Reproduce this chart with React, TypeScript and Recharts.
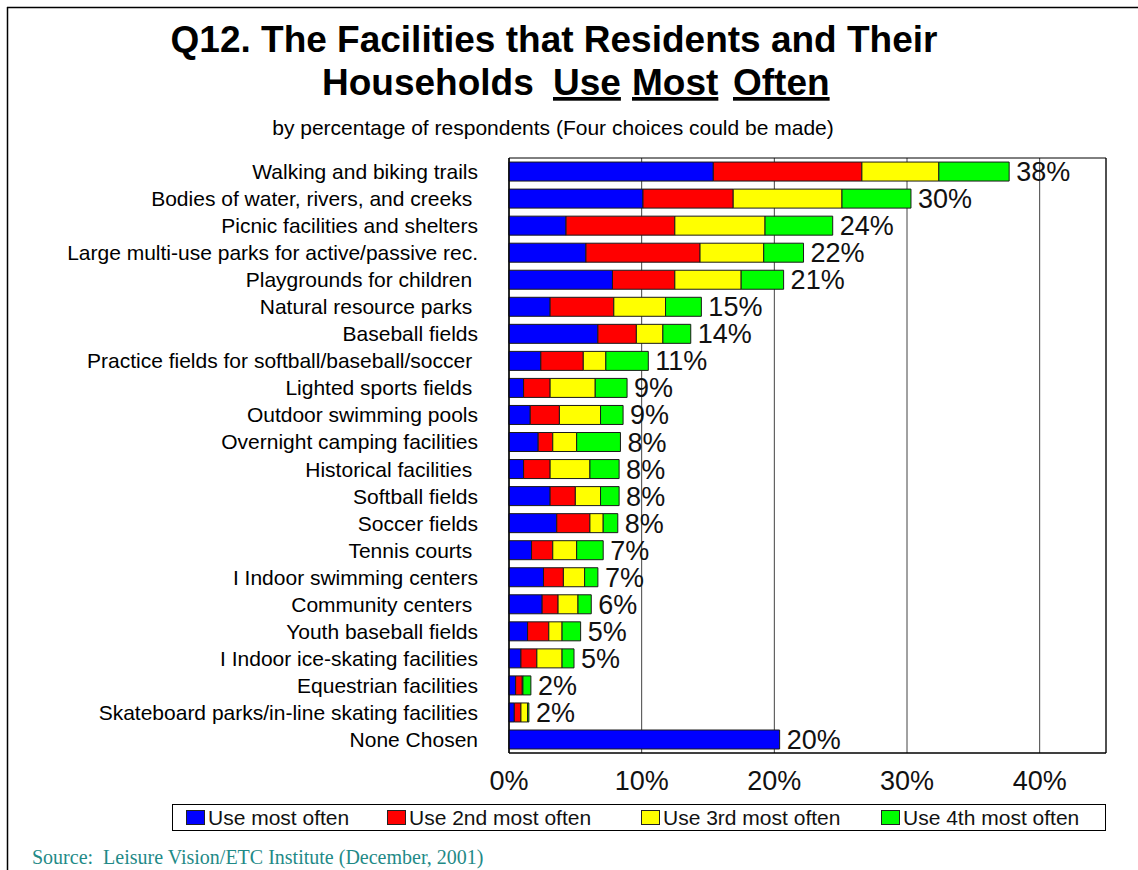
import { BarChart, Bar, XAxis, YAxis, CartesianGrid, ReferenceArea, LabelList } from "recharts";

const categories = [
  "Walking and biking trails",
  "Bodies of water, rivers, and creeks ",
  "Picnic facilities and shelters",
  "Large multi-use parks for active/passive rec.",
  "Playgrounds for children ",
  "Natural resource parks ",
  "Baseball fields",
  "Practice fields for softball/baseball/soccer ",
  "Lighted sports fields ",
  "Outdoor swimming pools",
  "Overnight camping facilities",
  "Historical facilities ",
  "Softball fields",
  "Soccer fields",
  "Tennis courts ",
  "I Indoor swimming centers",
  "Community centers ",
  "Youth baseball fields",
  "I Indoor ice-skating facilities",
  "Equestrian facilities",
  "Skateboard parks/in-line skating facilities",
  "None Chosen",
];

const useMost = [15.4, 10.1, 4.3, 5.8, 7.8, 3.1, 6.7, 2.4, 1.1, 1.6, 2.2, 1.1, 3.1, 3.6, 1.7, 2.6, 2.5, 1.4, 0.9, 0.5, 0.4, 20.4];
const use2nd = [11.2, 6.8, 8.2, 8.6, 4.7, 4.8, 2.9, 3.2, 2.0, 2.2, 1.1, 2.0, 1.9, 2.5, 1.6, 1.5, 1.2, 1.6, 1.2, 0.5, 0.5, 0];
const use3rd = [5.8, 8.2, 6.8, 4.8, 5.0, 3.9, 2.0, 1.7, 3.4, 3.1, 1.8, 3.0, 1.9, 1.0, 1.8, 1.6, 1.5, 1.0, 1.9, 0.05, 0.5, 0];
const use4th = [5.3, 5.2, 5.1, 3.0, 3.2, 2.7, 2.1, 3.2, 2.4, 1.7, 3.3, 2.2, 1.4, 1.1, 2.0, 1.0, 1.0, 1.4, 0.9, 0.6, 0.1, 0];
const totalLabels = ["38%", "30%", "24%", "22%", "21%", "15%", "14%", "11%", "9%", "9%", "8%", "8%", "8%", "8%", "7%", "7%", "6%", "5%", "5%", "2%", "2%", "20%"];
const xTicks = [0, 10, 20, 30, 40];

const series = [
  { key: "most", label: "Use most often", color: "#0000FF", values: useMost },
  { key: "second", label: "Use 2nd most often", color: "#FF0000", values: use2nd },
  { key: "third", label: "Use 3rd most often", color: "#FFFF00", values: use3rd },
  { key: "fourth", label: "Use 4th most often", color: "#00FF00", values: use4th },
];

const data = categories.map((name, i) => ({
  name,
  most: useMost[i],
  second: use2nd[i],
  third: use3rd[i],
  fourth: use4th[i],
}));

// which series ends each row, so the total label sits after it
const lastSeries = categories.map((_, i) => {
  let last = 0;
  series.forEach((s, si) => {
    if (s.values[i] > 0) last = si;
  });
  return last;
});

const FONT = "'Liberation Sans', Arial, sans-serif";
// legend item left edges, page px
const legendLeft = [185, 386, 640, 880];

const CategoryTick = (props: any) => {
  const { x, y, payload } = props;
  return (
    <text x={x - 31} y={y + 7.5} textAnchor="end" fontSize={21} fill="#000" fontFamily={FONT} style={{ whiteSpace: "pre" }}>
      {payload.value}
    </text>
  );
};

const PercentTick = (props: any) => {
  const { x, y, payload } = props;
  return (
    <text x={x} y={y + 37} textAnchor="middle" fontSize={27} fill="#111" fontFamily={FONT}>
      {payload.value}%
    </text>
  );
};

const makeTotalLabel = (si: number) => (props: any) => {
  const { x, y, width, height, index } = props;
  if (lastSeries[index] !== si) return null;
  return (
    <text x={x + width + 7} y={y + height / 2 + 9.5} fontSize={27} fill="#111" fontFamily={FONT}>
      {totalLabels[index]}
    </text>
  );
};

export default function App() {
  return (
    <div style={{ position: "absolute", left: 0, top: 0, width: 1138, height: 870, background: "#fff", fontFamily: FONT }}>
      <BarChart
        width={1138}
        height={870}
        data={data}
        layout="vertical"
        margin={{ top: 158, right: 32, bottom: 87, left: 0 }}
        barCategoryGap="15%"
      >
        <CartesianGrid horizontal={false} stroke="#444" strokeWidth={1} />
        <XAxis
          type="number"
          domain={[0, 45]}
          ticks={xTicks}
          height={30}
          tickLine={false}
          tickSize={0}
          tickMargin={0}
          axisLine={{ stroke: "#000" }}
          tick={<PercentTick />}
        />
        <YAxis
          type="category"
          dataKey="name"
          width={509}
          tickLine={false}
          tickSize={0}
          tickMargin={0}
          axisLine={{ stroke: "#000" }}
          tick={<CategoryTick />}
          interval={0}
        />
        {series.map((s, si) => (
          <Bar key={s.key} dataKey={s.key} stackId="a" fill={s.color} stroke="#1a1a1a" strokeWidth={1} isAnimationActive={false}>
            <LabelList content={makeTotalLabel(si)} />
          </Bar>
        ))}
        <ReferenceArea x1={0} x2={45} fill="none" stroke="#000" strokeWidth={1} ifOverflow="visible" />
      </BarChart>

      <svg width={1138} height={870} style={{ position: "absolute", left: 0, top: 0, pointerEvents: "none" }}>
        <line x1={7} y1={7.5} x2={1138} y2={7.5} stroke="#000" strokeWidth={1.5} />
        <line x1={7.5} y1={7} x2={7.5} y2={870} stroke="#000" strokeWidth={1.5} />
        <text x={554} y={52} textAnchor="middle" fontSize={37} fontWeight="bold" fontFamily={FONT} fill="#000">
          Q12. The Facilities that Residents and Their
        </text>
        <text y={95} fontSize={37} fontWeight="bold" fontFamily={FONT} fill="#000">
          <tspan x={322}>Households</tspan>
          <tspan x={553} style={{ textDecoration: "underline" }}>Use</tspan>
          <tspan x={632} style={{ textDecoration: "underline" }}>Most</tspan>
          <tspan x={733} style={{ textDecoration: "underline" }}>Often</tspan>
        </text>
        <text x={553} y={135} textAnchor="middle" fontSize={21} fontFamily={FONT} fill="#000">
          by percentage of respondents (Four choices could be made)
        </text>
        <text x={32} y={864} fontSize={20} fontFamily="'Liberation Serif', 'Times New Roman', serif" fill="#1F8A87" style={{ whiteSpace: "pre" }}>
          Source:  Leisure Vision/ETC Institute (December, 2001)
        </text>
      </svg>

      <div
        style={{
          position: "absolute",
          left: 172,
          top: 804,
          width: 934,
          height: 27,
          border: "1px solid #000",
          boxSizing: "border-box",
          background: "#fff",
        }}
      >
        {series.map((s, i) => (
          <div
            key={s.key}
            style={{
              position: "absolute",
              left: legendLeft[i] - 172,
              top: 0,
              height: 25,
              display: "flex",
              alignItems: "center",
              fontSize: 21,
              color: "#111",
              whiteSpace: "nowrap",
            }}
          >
            <span
              style={{
                display: "inline-block",
                width: 17,
                height: 13,
                background: s.color,
                border: "1px solid #222",
                marginRight: 3,
              }}
            />
            {s.label}
          </div>
        ))}
      </div>
    </div>
  );
}
